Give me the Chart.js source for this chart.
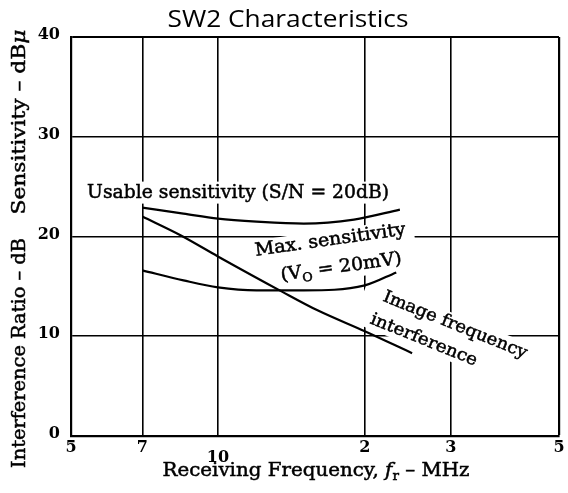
<!DOCTYPE html>
<html>
<head>
<meta charset="utf-8">
<title>SW2 Characteristics</title>
<script src="https://cdn.jsdelivr.net/npm/chart.js@4/dist/chart.umd.min.js"></script>
<style>
  html, body { margin: 0; padding: 0; background: #fff; }
  canvas { display: block; }
</style>
</head>
<body>
<canvas id="sw2" width="568" height="493"></canvas>
<script>
'use strict';

/* ── DATA ─────────────────────────── */
// receiving frequency (MHz) and level (dB / dBµ) for each curve
const usableFreq = [7, 8.5, 10, 12, 15, 19, 23.6];
const usableVals = [22.9, 22.3, 21.8, 21.5, 21.3, 21.7, 22.7];

const maxFreq = [7, 8.5, 10, 12, 15, 20, 23.2];
const maxVals = [16.6, 15.6, 14.9, 14.6, 14.6, 15.1, 16.4];

const imageFreq = [7, 8.4, 10, 13.5, 16, 20, 25];
const imageVals = [22.0, 20.1, 18.0, 14.5, 12.6, 10.5, 8.3];

// x grid / tick positions and the way the old sheet labels them
const xTicks      = [5, 7, 10, 20, 30, 50];
const xTickLabels = ['5', '7', '10', '2', '3', '5'];
const yTicks      = [0, 10, 20, 30, 40];

/* ── HELPERS ─────────────────────────── */
const ink   = '#000';
const serif = '"DejaVu Serif", "Liberation Serif", serif';

const pts = (xs, ys) => xs.map((x, i) => ({ x, y: ys[i] }));

// draw a row of text runs (plain / subscript / italic) centred on x,y,
// squeezed to a given width along the baseline; a thin stroke thickens the ink
function drawRuns(ctx, runs, x, y, width, angle, size, weight) {
  const fontFor = r => {
    const s = r.sub ? Math.round(size * 0.68) : size;
    return `${r.italic ? 'italic ' : ''}${weight || ''} ${s}px ${serif}`;
  };
  ctx.save();
  ctx.translate(x, y);
  ctx.rotate(angle * Math.PI / 180);
  let total = 0;
  runs.forEach(r => { ctx.font = fontFor(r); r.w = ctx.measureText(r.t).width; total += r.w; });
  if (width) ctx.scale(width / total, 1);
  ctx.fillStyle = ink;
  ctx.strokeStyle = ink;
  ctx.lineWidth = 0.5;
  ctx.textAlign = 'left';
  ctx.textBaseline = 'middle';
  let cx = -total / 2;
  runs.forEach(r => {
    ctx.font = fontFor(r);
    const dy = r.sub ? size * 0.32 : 0;
    ctx.fillText(r.t, cx, dy);
    ctx.strokeText(r.t, cx, dy);
    cx += r.w;
  });
  ctx.restore();
}

/* ── CURVE CAPTIONS ─────────────────────────── */
// anchored in data units (MHz, dB) so they follow the scales
const captions = [
  { runs: [{ t: 'Usable sensitivity (S/N = 20dB)' }], f: 11.0, v: 24.4, width: 302, angle: 0, size: 19 },
  { runs: [{ t: 'Max. sensitivity' }], f: 17.0, v: 19.6, width: 152, angle: -8, size: 18 },
  { runs: [{ t: '(V' }, { t: 'O', sub: true }, { t: ' = 20mV)' }], f: 17.9, v: 16.9, width: 122, angle: -8, size: 18 },
  { runs: [{ t: 'Image frequency' }], f: 30.6, v: 11.1, width: 154, angle: 22, size: 17 },
  { runs: [{ t: 'interference' }], f: 26.4, v: 9.6, width: 114, angle: 22, size: 17 },
];

// white patches behind the captions, cutting the grid like the printed sheet
const patches = [
  { f: 11.0, v: 24.4, w: 308, h: 22, angle: 0 },
  { f: 17.4, v: 18.2, w: 162, h: 50, angle: -8 },
  { f: 28.4, v: 10.4, w: 170, h: 46, angle: 22 },
];

const captionPlugin = {
  id: 'captions',
  beforeDatasetsDraw(chart) {
    const { ctx, scales: { x, y } } = chart;
    patches.forEach(p => {
      ctx.save();
      ctx.translate(x.getPixelForValue(p.f), y.getPixelForValue(p.v));
      ctx.rotate(p.angle * Math.PI / 180);
      ctx.fillStyle = '#fff';
      ctx.fillRect(-p.w / 2, -p.h / 2, p.w, p.h);
      ctx.restore();
    });
    captions.forEach(c => {
      drawRuns(ctx, c.runs, x.getPixelForValue(c.f), y.getPixelForValue(c.v), c.width, c.angle, c.size);
    });
  },
  afterDraw(chart) {
    const { ctx, chartArea: a, scales: { x, y } } = chart;

    // title
    ctx.save();
    ctx.font = '24px "Open Sans", "Noto Sans", sans-serif';
    ctx.fillStyle = ink;
    ctx.textAlign = 'center';
    ctx.textBaseline = 'alphabetic';
    const tw = ctx.measureText('SW2 Characteristics').width;
    ctx.translate(288, 27);
    ctx.scale(241 / tw, 1);
    ctx.fillText('SW2 Characteristics', 0, 0);
    ctx.restore();

    // y tick labels
    ctx.save();
    ctx.font = `bold 16px ${serif}`;
    ctx.fillStyle = ink;
    ctx.textAlign = 'right';
    ctx.textBaseline = 'middle';
    yTicks.forEach(v => ctx.fillText(String(v), a.left - 11, y.getPixelForValue(v) - 2));
    ctx.restore();

    // x tick labels (the 10 sits a line lower)
    ctx.save();
    ctx.font = `bold 16px ${serif}`;
    ctx.fillStyle = ink;
    ctx.textAlign = 'center';
    ctx.textBaseline = 'middle';
    xTicks.forEach((v, i) => {
      const dy = v === 10 ? 22 : 12;
      ctx.fillText(xTickLabels[i], x.getPixelForValue(v), a.bottom + dy);
    });
    ctx.restore();

    // axis titles
    drawRuns(ctx, [{ t: 'Receiving Frequency, ' }, { t: 'f', italic: true }, { t: 'r', sub: true }, { t: ' – MHz' }],
      316, a.bottom + 35, 307, 0, 19);
    drawRuns(ctx, [{ t: 'Sensitivity – dB' }, { t: 'μ', italic: true }], 20, 122, 185, -90, 19);
    drawRuns(ctx, [{ t: 'Interference Ratio – dB' }], 20, 353, 230, -90, 19);
  },
};

/* ── CHART ─────────────────────────── */
const line = {
  borderColor: ink,
  borderWidth: 2.2,
  pointRadius: 0,
  fill: false,
  cubicInterpolationMode: 'monotone',
};

const grid = {
  color: '#000',
  lineWidth: 1.6,
  drawTicks: false,
};

new Chart(document.getElementById('sw2'), {
  type: 'line',
  data: {
    datasets: [
      { label: 'Usable sensitivity', data: pts(usableFreq, usableVals), ...line },
      { label: 'Max. sensitivity',   data: pts(maxFreq, maxVals),       ...line },
      { label: 'Image frequency interference', data: pts(imageFreq, imageVals), ...line },
    ],
  },
  options: {
    responsive: false,
    animation: false,
    layout: { padding: { left: 71, right: 9, top: 37, bottom: 57 } },
    plugins: {
      legend:  { display: false },
      tooltip: { enabled: false },
    },
    scales: {
      x: {
        type: 'logarithmic',
        min: 5,
        max: 50,
        afterBuildTicks: s => { s.ticks = xTicks.map(v => ({ value: v })); },
        ticks:  { display: false },
        grid:   { ...grid, lineWidth: c => (c.tick && c.tick.value === 50 ? 2.2 : 1.6) },
        border: { color: '#000', width: 2.2 },
      },
      y: {
        min: 0,
        max: 40,
        afterBuildTicks: s => { s.ticks = yTicks.map(v => ({ value: v })); },
        ticks:  { display: false },
        grid:   { ...grid, lineWidth: c => (c.tick && c.tick.value === 40 ? 2 : 1.6) },
        border: { color: '#000', width: 2.2 },
      },
    },
  },
  plugins: [captionPlugin],
});
</script>
</body>
</html>
